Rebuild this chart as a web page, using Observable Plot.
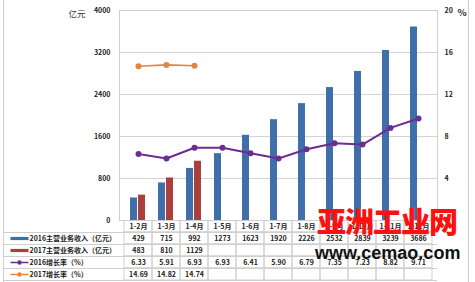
<!DOCTYPE html>
<html>
<head>
<meta charset="utf-8">
<script src="https://cdn.jsdelivr.net/npm/d3@7"></script>
<script src="https://cdn.jsdelivr.net/npm/@observablehq/plot@0.6"></script>
<style>
  html, body { margin: 0; padding: 0; background: white; }
  #wrap { position: relative; width: 475px; height: 282px; overflow: hidden; background: white; }
  #wrap svg { position: absolute; left: 0; }
  .border { position: absolute; left: 3px; top: -2px; width: 466px; height: 286px; border: 1px solid #cfcfcf; box-sizing: border-box; }
  .wm1 { position: absolute; left: 317px; top: 206px; font: 900 29px "Noto Sans CJK SC"; color: #ff1010; letter-spacing: -1px; line-height: 1; }
  .wm2 { position: absolute; left: 315px; top: 244px; font: bold 18px "Liberation Sans"; color: #111; line-height: 1; }
</style>
</head>
<body>
<div id="wrap"><div class="border"></div></div>
<script>
const cats = ["1-2月","1-3月","1-4月","1-5月","1-6月","1-7月","1-8月","1-9月","1-10月","1-11月","1-12月"];
const rev2016 = [429, 715, 992, 1273, 1623, 1920, 2226, 2532, 2839, 3239, 3686];
const rev2017 = [483, 810, 1129];
const rate2016 = [6.33, 5.91, 6.93, 6.93, 6.41, 5.90, 6.79, 7.35, 7.23, 8.82, 9.71];
const rate2017 = [14.69, 14.82, 14.74];
const leftTicks = [0, 800, 1600, 2400, 3200, 4000];
const rightTicks = [0, 4, 8, 12, 16, 20];
const seriesLabels = ["2016主营业务收入（亿元）", "2017主营业务收入（亿元）", "2016增长率（%）", "2017增长率（%）"];
const unitLeft = "亿元";
const unitRight = "%";

const blue = "#3f6ea9", red = "#a9403e", purple = "#6b2d92", orange = "#e4853b";
const font = "'Noto Sans CJK SC', 'Noto Sans', sans-serif";
const k = 4000 / 20;

const d16 = rev2016.map((v, i) => ({cat: cats[i], v}));
const d17 = rev2017.map((v, i) => ({cat: cats[i], v}));
const r16 = rate2016.map((r, i) => ({cat: cats[i], r}));
const r17 = rate2017.map((r, i) => ({cat: cats[i], r}));

const chart = Plot.plot({
  width: 475, height: 282,
  marginLeft: 119, marginRight: 38, marginTop: 10, marginBottom: 62,
  x: {type: "band", domain: cats, padding: 0, axis: null},
  y: {domain: [0, 4000], axis: null},
  style: {fontFamily: font, fontSize: "7px", fontWeight: "bold", background: "transparent", overflow: "visible", color: "#222"},
  marks: [
    Plot.gridY(leftTicks, {stroke: "#d3d3d3", strokeOpacity: 1}),
    Plot.frame({stroke: "#cfcfcf"}),
    Plot.barY(d16, {x: "cat", y: "v", fill: blue, insetLeft: 6, insetRight: 15}),
    Plot.barY(d17, {x: "cat", y: "v", fill: red, insetLeft: 14, insetRight: 7}),
    Plot.line(r16, {x: "cat", y: d => d.r * k, stroke: purple, strokeWidth: 2}),
    Plot.dot(r16, {x: "cat", y: d => d.r * k, r: 3, fill: purple}),
    Plot.line(r17, {x: "cat", y: d => d.r * k, stroke: orange, strokeWidth: 1.6}),
    Plot.dot(r17, {x: "cat", y: d => d.r * k, r: 3, fill: orange}),
    Plot.axisY(leftTicks, {anchor: "left", tickSize: 0, tickPadding: 9, label: null, tickFormat: d => String(d)}),
    Plot.axisY(rightTicks.map(t => t * k), {anchor: "right", tickSize: 0, tickPadding: 7, tickFormat: d => String(d / k), label: null}),
    Plot.text([unitLeft], {text: d => d, frameAnchor: "top-left", dx: -34, dy: 0, textAnchor: "end", fontSize: 8.5, fontWeight: "normal", fontFamily: "'Noto Sans CJK SC'", fill: "#333"}),
    Plot.text([unitRight], {text: d => d, frameAnchor: "top-right", dx: 20, dy: -1, textAnchor: "start", fontSize: 9.5, fill: "#333"})
  ]
});
chart.style.top = "0px";
document.getElementById("wrap").appendChild(chart);

// data table
const rowKeys = ["header", "s0", "s1", "s2", "s3"];
const seriesRows = [rev2016, rev2017, rate2016, rate2017];
const cells = [];
for (const row of rowKeys) for (const c of cats) cells.push({cat: c, row});
const values = [];
cats.forEach((c, i) => values.push({cat: c, row: "header", t: c}));
seriesRows.forEach((arr, s) => arr.forEach((v, i) => values.push({cat: cats[i], row: "s" + s, t: s >= 2 ? v.toFixed(2) : String(v)})));
const legendRows = seriesLabels.map((label, s) => ({row: "s" + s, label, s}));
const barSym = {draw(ctx) { ctx.rect(-9, -1.6, 18, 3.2); }};
const lineSym = {draw(ctx) { ctx.moveTo(-9, -0.7); ctx.lineTo(9, -0.7); ctx.lineTo(9, 0.7); ctx.lineTo(-9, 0.7); ctx.closePath(); ctx.moveTo(2.2, 0); ctx.arc(0, 0, 2.2, 0, 2 * Math.PI); }};
const swatchColors = [blue, red, purple, orange];

const table = Plot.plot({
  width: 475, height: 62,
  marginLeft: 3, marginRight: 38, marginTop: 0, marginBottom: 2,
  x: {type: "band", domain: cats, range: [119, 437], padding: 0, axis: null},
  y: {type: "band", domain: rowKeys, padding: 0, axis: null},
  style: {fontFamily: font, fontSize: "7px", fontWeight: "bold", background: "transparent", color: "#222"},
  marks: [
    Plot.ruleY(rowKeys, {y: d => d, dy: 6, stroke: "#cfcfcf", strokeOpacity: 1}),
    Plot.cell(cells, {x: "cat", y: "row", stroke: "#cfcfcf", fill: "none"}),
    Plot.text(values, {x: "cat", y: "row", text: "t"}),
    Plot.dot(legendRows.slice(0, 2), {y: "row", frameAnchor: "left", dx: 16, symbol: barSym, fill: d => swatchColors[d.s], r: 3}),
    Plot.dot(legendRows.slice(2), {y: "row", frameAnchor: "left", dx: 16, symbol: lineSym, fill: d => swatchColors[d.s], r: 3}),
    Plot.text(legendRows, {y: "row", text: "label", frameAnchor: "left", dx: 26, textAnchor: "start"})
  ]
});
table.style.top = "220px";
document.getElementById("wrap").appendChild(table);

const w1 = document.createElement("div"); w1.className = "wm1"; w1.textContent = "亚洲工业网";
const w2 = document.createElement("div"); w2.className = "wm2"; w2.textContent = "www.cemao.com";
document.getElementById("wrap").appendChild(w1);
document.getElementById("wrap").appendChild(w2);
</script>
</body>
</html>
